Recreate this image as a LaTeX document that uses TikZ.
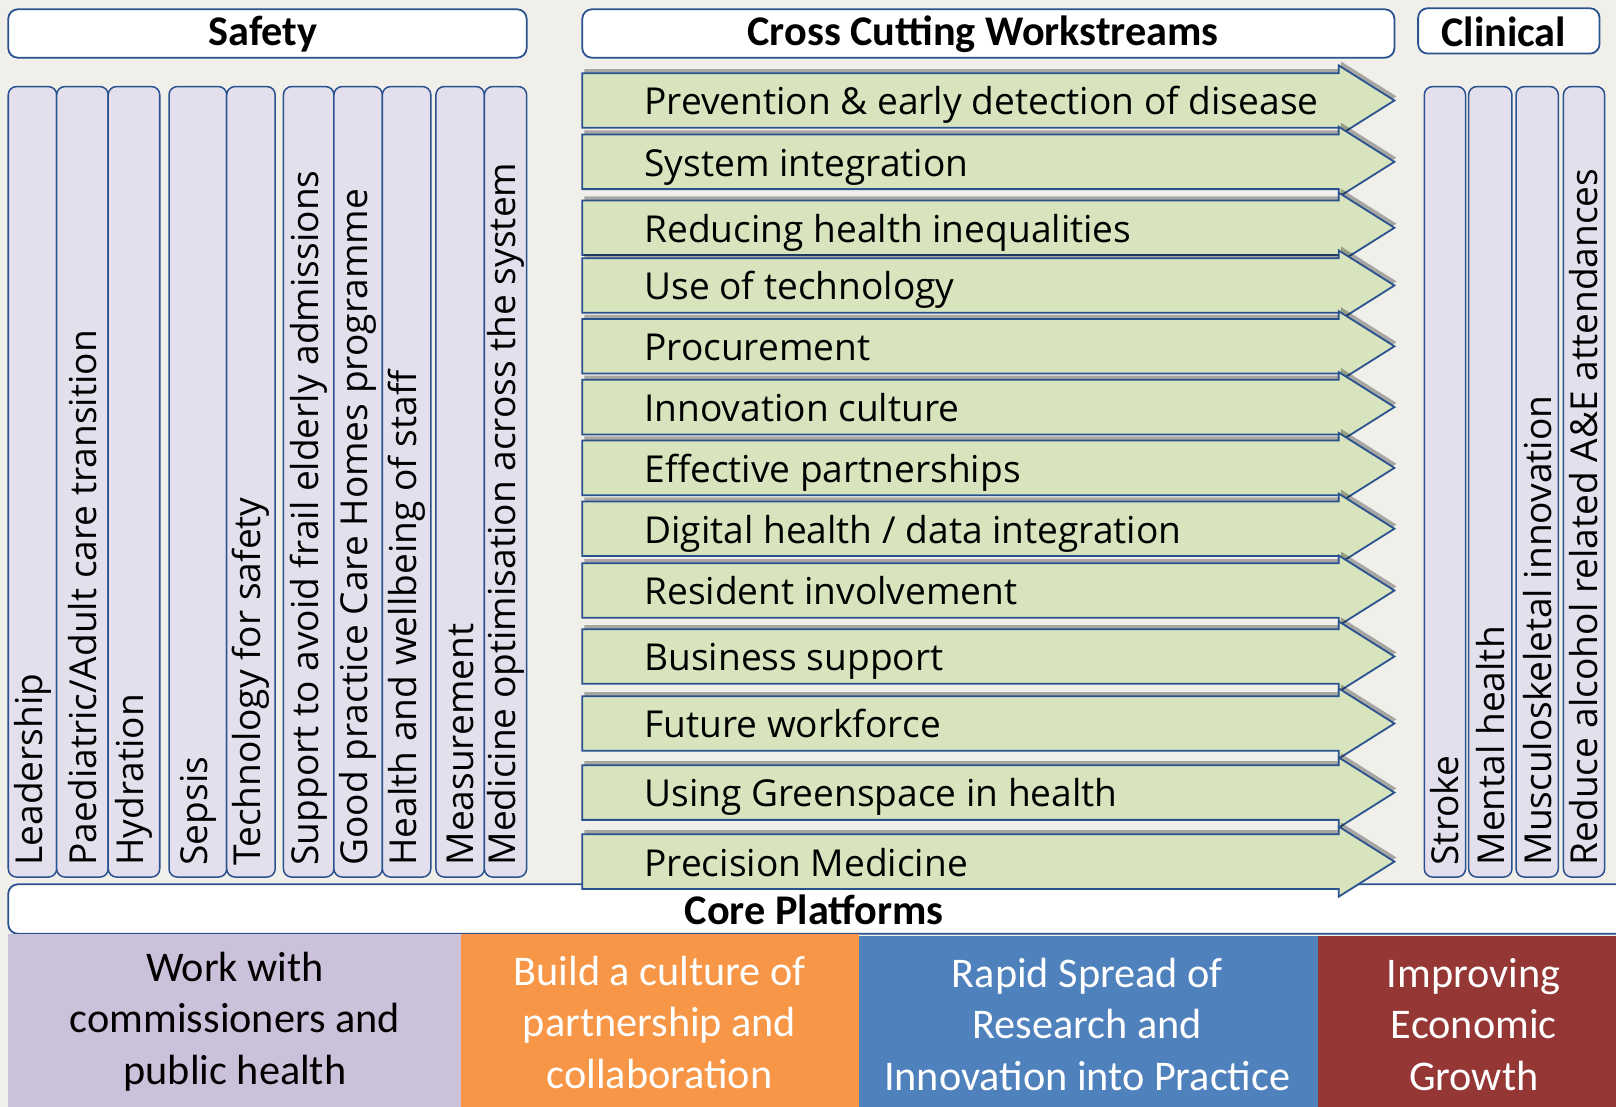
\documentclass[tikz,border=0pt]{standalone}
\usepackage{fontspec}
\setmainfont{Carlito}
\newfontfamily\streamfont{Open Sans}
\usepackage{tikz}
\usetikzlibrary{shadows}

\definecolor{edgeblue}{RGB}{41,82,143}
\definecolor{lilac}{RGB}{228,223,236}
\definecolor{sage}{RGB}{215,228,189}
\definecolor{paper}{RGB}{240,239,234}
\definecolor{platpurple}{RGB}{204,193,218}
\definecolor{platorange}{RGB}{247,150,70}
\definecolor{platblue}{RGB}{79,129,189}
\definecolor{platred}{RGB}{149,55,53}

\tikzset{
  headbox/.style={draw=edgeblue, line width=1.3pt, fill=white, rounded corners=7pt},
  colbox/.style={draw=edgeblue, line width=1.1pt, fill=lilac, rounded corners=6pt},
  streamarrow/.style={draw=edgeblue, line width=1.3pt, fill=sage, line join=miter,
    drop shadow={shadow xshift=1.5pt, shadow yshift=3pt, fill=black, opacity=0.3}},
  headtext/.style={font=\fontsize{30.75}{36}\selectfont\bfseries, inner sep=0pt},
  coltext/.style={font=\streamfont\fontsize{27}{32}\selectfont, rotate=90, anchor=west, inner sep=0pt},
  streamtext/.style={font=\streamfont\fontsize{27}{32}\selectfont, anchor=base west, inner sep=0pt},
  plattext/.style={font=\fontsize{30.75}{37.5}\selectfont, align=center, inner sep=0pt},
}

\begin{document}
\begin{tikzpicture}[x=0.75pt,y=0.75pt,yscale=-1,xscale=1]

        % Background
        \fill[paper] (0,0) rectangle (1568,1074);
        \useasboundingbox (0,0) rectangle (1568,1074);

        %Shape: Header boxes
        \draw[headbox] (8,9) rectangle (511,56);
        \draw[headbox] (565,9) rectangle (1353,56);
        \draw[headbox] (1376,8) rectangle (1552,52);
        % Text Node
        \node[headtext] (safety) at (255,33) {Safety};
        \node[headtext] (cross) at (954,33) {Cross Cutting Workstreams};
        \node[headtext] (clinical) at (1459,31) {Clinical};

        %Shape: Safety columns
        \foreach \xa/\xb/\lbl [count=\i] in {8/55/Leadership, 55/105/{Paediatric/Adult care transition},
            105/155/Hydration, 164/220/Sepsis, 220/267/Technology for safety,
            275/324/Support to avoid frail elderly admissions, 324/371/Good practice Care Homes programme,
            371/418/Health and wellbeing of staff, 423/470/Measurement,
            470/511/Medicine optimisation across the system} {
          \draw[colbox] (\xa,84) rectangle (\xb,851);
          \node[coltext] (safe\i) at ({(\xa+\xb)/2},840) {\lbl};
        }

        %Shape: Clinical columns
        \foreach \xa/\xb/\lbl [count=\i] in {1382/1422/Stroke, 1425/1467/Mental health,
            1471/1512/Musculoskeletal innovation, 1517/1557/Reduce alcohol related A\&E attendances} {
          \draw[colbox] (\xa,84) rectangle (\xb,851);
          \node[coltext] (clin\i) at ({(\xa+\xb)/2},840) {\lbl};
        }

        %Shape: Core platforms bar
        \draw[headbox] (8,858) rectangle (1600,906);
        \node[headtext] (core) at (790,883) {Core Platforms};

        %Shape: Workstream arrows
        \foreach \yc/\lbl [count=\i] in {97.5/Prevention \& early detection of disease, 157/System integration,
            221/Reducing health inequalities, 277/Use of technology, 336/Procurement,
            395/Innovation culture, 454/Effective partnerships, 513/{Digital health / data integration},
            573/Resident involvement, 637/Business support, 702/Future workforce,
            769/Using Greenspace in health, 836/Precision Medicine} {
          \draw[streamarrow] (565,\yc-26.5) -- (1299,\yc-26.5) -- (1299,\yc-34) -- (1353,\yc)
              -- (1299,\yc+34) -- (1299,\yc+26.5) -- (565,\yc+26.5) -- cycle;
          \node[streamtext] (stream\i) at (625,\yc+14) {\lbl};
        }

        %Shape: Platform blocks
        \fill[platpurple] (8,906) rectangle (447,1080);
        \fill[platorange] (447,906) rectangle (833,1080);
        \fill[platblue] (833,908) rectangle (1279,1080);
        \fill[platred] (1279,908) rectangle (1580,1080);
        % Text Node
        \node[plattext] (commish) at (228,991) {Work with\\commissioners and\\public health};
        \node[plattext, text=white] (partner) at (640,992) {Build a culture of\\partnership and\\collaboration};
        \node[plattext, text=white] (spread) at (1055,994) {Rapid Spread of\\Research and\\Innovation into Practice};
        \node[plattext, text=white] (growth) at (1430,994) {Improving\\Economic\\Growth};

\end{tikzpicture}
\end{document}
